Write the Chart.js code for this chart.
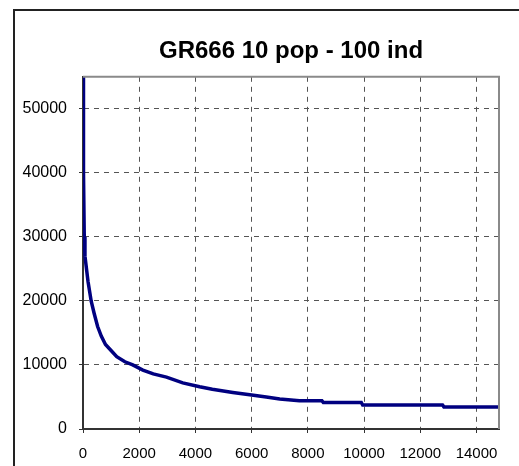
<!DOCTYPE html>
<html>
<head>
<meta charset="utf-8">
<script src="https://cdn.jsdelivr.net/npm/chart.js@4/dist/chart.umd.min.js"></script>
<style>
  html, body { margin: 0; padding: 0; background: #fff; }
  #wrap { position: relative; width: 519px; height: 466px; }
  #frame {
    position: absolute; left: 13px; top: 9px; right: 0; bottom: 0;
    border-left: 2px solid #222; border-top: 2px solid #222;
    pointer-events: none;
  }
</style>
</head>
<body>
<div id="wrap">
  <canvas id="chart" width="519" height="466"></canvas>
  <div id="frame"></div>
</div>
<script>
const generations = [0, 10, 25, 45, 70, 130, 180, 290, 400, 520, 650, 800, 990, 1200, 1490, 1770, 2130, 2500, 2970, 3550, 4150, 4600, 5330, 6000, 6520, 7000, 7700, 8500, 8550, 9900, 9950, 12790, 12840, 14800]
const fitness = [55000, 50000, 40000, 30000, 27000, 24800, 23000, 20000, 18000, 16000, 14500, 13200, 12300, 11300, 10500, 10000, 9200, 8600, 8100, 7200, 6600, 6200, 5700, 5300, 5000, 4700, 4400, 4400, 4150, 4150, 3750, 3750, 3450, 3450]
const xTicks = [0, 2000, 4000, 6000, 8000, 10000, 12000, 14000]
const yTicks = [0, 10000, 20000, 30000, 40000, 50000]

const family = "'Liberation Sans', Arial, sans-serif"

// grey top/right edge of the plot area
const plotFrame = {
  id: "plotFrame",
  afterDatasetsDraw(chart) {
    const { ctx, chartArea: a } = chart
    ctx.save()
    ctx.strokeStyle = "#8a8a8a"
    ctx.lineWidth = 2
    ctx.beginPath()
    ctx.moveTo(a.left, a.top)
    ctx.lineTo(a.right, a.top)
    ctx.lineTo(a.right, a.bottom)
    ctx.stroke()
    ctx.restore()
  }
}

new Chart(document.getElementById("chart"), {
  type: "line",
  data: {
    datasets: [{
      data: generations.map((g, i) => ({ x: g, y: fitness[i] })),
      borderColor: "#000080",
      borderWidth: 3.5,
      pointRadius: 0,
      tension: 0,
      fill: false
    }]
  },
  options: {
    responsive: false,
    animation: false,
    layout: { padding: { top: 37, right: 20, bottom: 0, left: 0 } },
    plugins: {
      legend: { display: false },
      tooltip: { enabled: false },
      title: {
        display: true,
        fullSize: false, // centre over the plot area
        text: "GR666 10 pop - 100 ind",
        color: "#000",
        font: { family, size: 24, weight: "bold", lineHeight: 1.2 },
        padding: { top: 0, bottom: 11 }
      }
    },
    scales: {
      x: {
        type: "linear",
        min: 0,
        max: 14800,
        afterFit(scale) { scale.height = 37 },
        afterBuildTicks(scale) { scale.ticks = xTicks.map(v => ({ value: v })) },
        ticks: { color: "#000", font: { family, size: 15 }, padding: 12, maxRotation: 0, callback: v => String(v) },
        grid: { color: "#555", tickLength: 4, tickColor: "#333", tickBorderDash: [] },
        border: { color: "#333", width: 2, dash: [5, 5] }
      },
      y: {
        min: 0,
        max: 55000,
        afterFit(scale) { scale.width = 83 },
        afterBuildTicks(scale) { scale.ticks = yTicks.map(v => ({ value: v })) },
        ticks: { color: "#000", font: { family, size: 16 }, padding: 12, callback: v => String(v) },
        grid: { color: "#555", tickLength: 4, tickColor: "#333", tickBorderDash: [] },
        border: { color: "#333", width: 2, dash: [5, 5] }
      }
    }
  },
  plugins: [plotFrame]
})
</script>
</body>
</html>
